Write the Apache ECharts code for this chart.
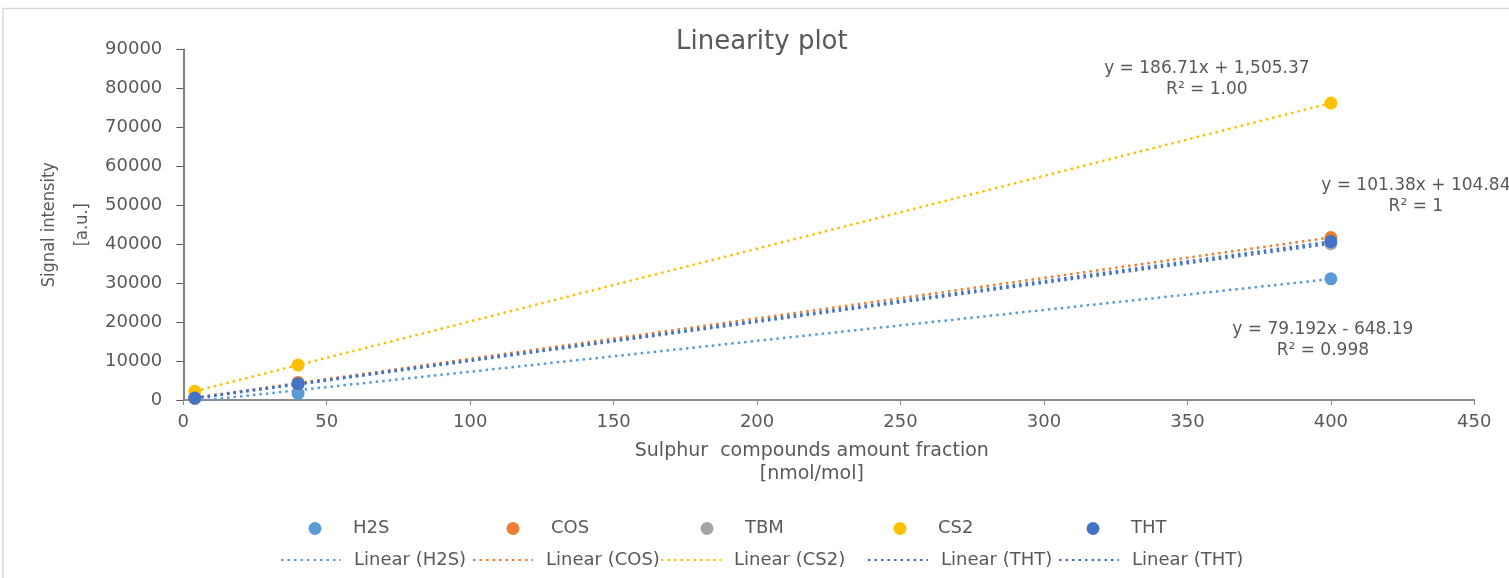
<!DOCTYPE html>
<html><head><meta charset="utf-8">
<script src="https://cdn.jsdelivr.net/npm/echarts@6/dist/echarts.min.js"></script>
<style>html,body{margin:0;padding:0;background:#fff}#c{width:1509px;height:578px}</style>
</head><body><div id="c"></div>
<script>
// ---- data ----
const xValues = [4, 40, 400];
const seriesNames = ['H2S', 'COS', 'TBM', 'CS2', 'THT'];
const h2sValues = [410, 1700, 31100];
const cosValues = [450, 4500, 41700];
const tbmValues = [400, 4000, 40100];
const cs2Values = [2250, 8970, 76190];
const thtValues = [510, 4160, 40660];
const trendNames = ['Linear (H2S)', 'Linear (COS)', 'Linear (CS2)', 'Linear (THT)', 'Linear (THT)'];
const eqH2S = ['y = 79.192x - 648.19', 'R² = 0.998'];
const eqCS2 = ['y = 186.71x + 1,505.37', 'R² = 1.00'];
const eqTHT = ['y = 101.38x + 104.84', 'R² = 1'];
const titleText = 'Linearity plot';
const xAxisTitle = 'Sulphur  compounds amount fraction\n[nmol/mol]';
const yAxisTitle = 'Signal intensity\n[a.u.]';

// ---- styling ----
const colors = {H2S: '#5B9BD5', COS: '#ED7D31', TBM: '#A5A5A5', CS2: '#FFC000', THT: '#4472C4'};
const txt = '#595959';
const FONT = "'DejaVu Sans', 'Open Sans', sans-serif";

const valuesByName = {H2S: h2sValues, COS: cosValues, TBM: tbmValues, CS2: cs2Values, THT: thtValues};

function linFit(xs, ys) {
  const n = xs.length;
  const mx = xs.reduce((a, b) => a + b, 0) / n;
  const my = ys.reduce((a, b) => a + b, 0) / n;
  let sxy = 0, sxx = 0;
  for (let i = 0; i < n; i++) { sxy += (xs[i] - mx) * (ys[i] - my); sxx += (xs[i] - mx) ** 2; }
  const k = sxy / sxx;
  return {k: k, b: my - k * mx};
}
function trendData(ys) {
  const f = linFit(xValues, ys);
  const x0 = Math.min(...xValues), x1 = Math.max(...xValues);
  return [[x0, f.k * x0 + f.b], [x1, f.k * x1 + f.b]];
}

const scatterSeries = seriesNames.map(n => ({
  name: n, type: 'scatter', symbol: 'circle', symbolSize: 13, z: 5,
  itemStyle: {color: colors[n], opacity: 1},
  data: xValues.map((x, i) => [x, valuesByName[n][i]])
}));

function eqMark(pts, lines, offset) {
  return {
    symbol: 'circle', symbolSize: 0, silent: true,
    data: [{coord: pts[pts.length - 1],
      label: {show: true, position: 'inside', formatter: lines.join('\n'), offset: offset,
        color: txt, fontSize: 17, lineHeight: 21, fontFamily: FONT, align: 'center', verticalAlign: 'middle'}}]
  };
}

const trendDefs = [
  {name: trendNames[0], src: 'H2S', color: colors.H2S, eq: eqH2S, off: [-8, 61]},
  {name: trendNames[1], src: 'COS', color: colors.COS},
  {name: trendNames[2], src: 'CS2', color: colors.CS2, eq: eqCS2, off: [-124, -24]},
  {name: trendNames[3], src: 'THT', color: colors.THT, eq: eqTHT, off: [85, -45]},
  {name: trendNames[4], src: 'TBM', color: colors.THT}
];
const trendSeries = trendDefs.map(d => {
  const pts = trendData(valuesByName[d.src]);
  const s = {
    name: d.name, type: 'line', symbol: 'none', showSymbol: false, z: 3,
    lineStyle: {color: d.color, width: 2.5, type: [2.5, 4]},
    itemStyle: {color: d.color},
    data: pts
  };
  if (d.eq) s.markPoint = eqMark(pts, d.eq, d.off);
  return s;
});

// legends: one per entry
const row1Centers = [315, 513, 707, 900, 1093];
const row2Lefts = [280, 472, 660, 867, 1058];
const legends = [];
seriesNames.forEach((n, i) => legends.push({
  data: [n], left: row1Centers[i] - 6.5, top: 519.5, orient: 'horizontal', padding: 0,
  itemWidth: 13, itemHeight: 13, icon: 'circle', selectedMode: false,
  textStyle: {color: txt, fontSize: 18, fontFamily: FONT, padding: [0, 0, 0, 26.5]}
}));
trendNames.forEach((n, i) => legends.push({
  data: [n], left: row2Lefts[i], top: 551, orient: 'horizontal', padding: 0,
  itemWidth: 60, itemHeight: 14, selectedMode: false,
  itemStyle: {color: 'rgba(0,0,0,0)', borderWidth: 0, opacity: 0},
  textStyle: {color: txt, fontSize: 18, fontFamily: FONT, padding: [0, 0, 0, 8]}
}));

const chart = echarts.init(document.getElementById('c'), null, {renderer: 'canvas'});
chart.setOption({
  animation: false,
  backgroundColor: '#fff',
  title: {text: titleText, left: 676, top: 29, padding: 0,
    textStyle: {color: txt, fontSize: 26, fontWeight: 'normal', fontFamily: FONT}},
  graphic: [{type: 'rect', shape: {x: 3, y: 8.5, width: 1540, height: 620},
    style: {fill: 'none', stroke: '#d9d9d9', lineWidth: 1.5}, silent: true, z: -10}],
  grid: {left: 183.3, right: 34.7, top: 49.3, bottom: 178, containLabel: false},
  legend: legends,
  xAxis: {
    type: 'value', min: 0, max: 450, interval: 50,
    name: xAxisTitle, nameLocation: 'middle', nameGap: 40, nameMoveOverlap: false,
    nameTextStyle: {color: txt, fontSize: 19, lineHeight: 23, fontFamily: FONT, padding: [0, 34, 0, 0]},
    axisLine: {show: true, onZero: false, lineStyle: {color: '#8c8c8c', width: 2}},
    axisTick: {show: true, inside: false, length: 5, lineStyle: {color: '#8c8c8c', width: 1}},
    axisLabel: {color: txt, fontSize: 18, fontFamily: FONT, margin: 13},
    splitLine: {show: false}
  },
  yAxis: {
    type: 'value', min: 0, max: 90000, interval: 10000,
    name: yAxisTitle, nameLocation: 'middle', nameGap: 84, nameRotate: 90, nameMoveOverlap: false,
    nameTextStyle: {color: txt, fontSize: 18, lineHeight: 33, fontFamily: "'DejaVu Sans Condensed', 'Liberation Sans Narrow', 'DejaVu Sans', sans-serif"},
    axisLine: {show: true, lineStyle: {color: '#595959', width: 1.5}},
    axisTick: {show: true, inside: false, length: 7, lineStyle: {color: '#595959', width: 1}},
    axisLabel: {color: txt, fontSize: 18, fontFamily: FONT, margin: 21, formatter: v => String(v)},
    splitLine: {show: false}
  },
  series: [...trendSeries, ...scatterSeries]
});
</script></body></html>
